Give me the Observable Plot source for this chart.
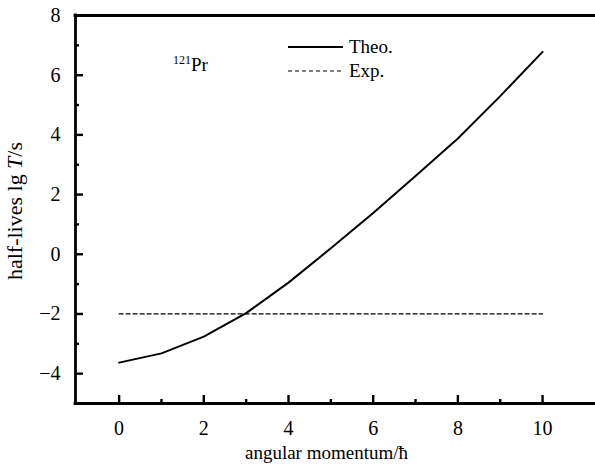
<!DOCTYPE html>
<html><head><meta charset="utf-8">
<script src="https://cdn.jsdelivr.net/npm/d3@7"></script>
<script src="https://cdn.jsdelivr.net/npm/@observablehq/plot@0.6"></script>
<style>
html,body{margin:0;padding:0;background:#fff}
svg, svg text{font-family:"Liberation Serif","Times New Roman",serif !important}
</style>
</head><body><div id="chart"></div>
<script>
// ---- data ----
const angularMomentum = [0, 1, 2, 3, 4, 5, 6, 7, 8, 9, 10];
const theoLgT = [-3.63, -3.32, -2.76, -1.97, -0.95, 0.2, 1.38, 2.62, 3.88, 5.3, 6.78];
const expJ = [0, 10];
const expLgT = [-2, -2];
const xMajorTicks = [0, 2, 4, 6, 8, 10];
const xMinorTicks = [1, 3, 5, 7, 9];
const yMajorTicks = [-4, -2, 0, 2, 4, 6, 8];
const yMinorTicks = [-3, -1, 1, 3, 5, 7];
const xLabel = "angular momentum/ħ";
const yLabelParts = ["half-lives lg ", "T", "/s"];
const nucleusMass = "121";
const nucleusSymbol = "Pr";
const seriesNames = ["Theo.", "Exp."];

const xDomain = [-1.03, 11.25];
const yDomain = [-5, 8];

const theo = angularMomentum.map((x, i) => ({x, y: theoLgT[i]}));
const exp = expJ.map((x, i) => ({x, y: expLgT[i]}));

const plot = Plot.plot({
  width: 595, height: 470,
  marginLeft: 75, marginRight: 0, marginTop: 15, marginBottom: 67,
  style: {fontFamily: "'Liberation Serif', serif", fontSize: "20px", color: "#000", background: "#fff", overflow: "visible"},
  x: {domain: xDomain},
  y: {domain: yDomain},
  marks: [
    // frame (left, top, bottom)
    Plot.ruleX([xDomain[0]], {strokeWidth: 2.8, strokeLinecap: "square"}),
    Plot.ruleY([yDomain[0], yDomain[1]], {strokeWidth: 2.8, strokeLinecap: "square"}),
    // inward ticks
    Plot.axisX(xMajorTicks, {anchor: "bottom", tickSize: -8, strokeWidth: 2.4, tickFormat: () => "", label: null}),
    Plot.axisX(xMinorTicks, {anchor: "bottom", tickSize: -4, strokeWidth: 2.4, tickFormat: () => "", label: null}),
    Plot.axisY(yMajorTicks, {anchor: "left", tickSize: -8, strokeWidth: 2.4, tickFormat: () => "", label: null}),
    Plot.axisY(yMinorTicks, {anchor: "left", tickSize: -4, strokeWidth: 2.4, tickFormat: () => "", label: null}),
    // tick labels
    Plot.axisX(xMajorTicks, {anchor: "bottom", tickSize: 0, tickPadding: 17, fontSize: 20, label: null}),
    Plot.axisY(yMajorTicks, {anchor: "left", tickSize: 0, tickPadding: 15, fontSize: 20, label: null}),
    // data
    Plot.line(exp, {x: "x", y: "y", stroke: "#000", strokeWidth: 1.2, strokeDasharray: "4,3"}),
    Plot.line(theo, {x: "x", y: "y", stroke: "#000", strokeWidth: 2}),
    // x label
    Plot.text([xLabel], {text: d => d, frameAnchor: "bottom", dx: -9, dy: 55, fontSize: 19, textAnchor: "middle"})
  ]
});
document.getElementById("chart").appendChild(plot);

const svg = d3.select(plot);
const FONT = "'Liberation Serif', serif";
// y label
const yl = svg.append("text")
  .attr("transform", "translate(22,211) rotate(-90)")
  .attr("text-anchor", "middle")
  .attr("font-family", FONT)
  .attr("font-size", 22)
  .attr("fill", "#000");
yl.append("tspan").text(yLabelParts[0]);
yl.append("tspan").attr("font-style", "italic").text(yLabelParts[1]);
yl.append("tspan").text(yLabelParts[2]);

// nucleus label
const nl = svg.append("text").attr("x", 173).attr("y", 71).attr("text-anchor", "start")
  .attr("font-family", FONT).attr("font-size", 19).attr("fill", "#000");
nl.append("tspan").attr("font-size", 12).attr("dy", -7).text(nucleusMass);
nl.append("tspan").attr("dy", 7).text(nucleusSymbol);

// legend
const lg = svg.append("g").attr("font-family", FONT).attr("font-size", 19).attr("text-anchor", "start");
lg.append("line").attr("x1", 288).attr("x2", 343).attr("y1", 47).attr("y2", 47).attr("stroke", "#000").attr("stroke-width", 2);
lg.append("text").attr("x", 349).attr("y", 53).text(seriesNames[0]);
lg.append("line").attr("x1", 288).attr("x2", 343).attr("y1", 71).attr("y2", 71).attr("stroke", "#000").attr("stroke-width", 1.2).attr("stroke-dasharray", "4,3");
lg.append("text").attr("x", 349).attr("y", 77).text(seriesNames[1]);
</script>
</body></html>
